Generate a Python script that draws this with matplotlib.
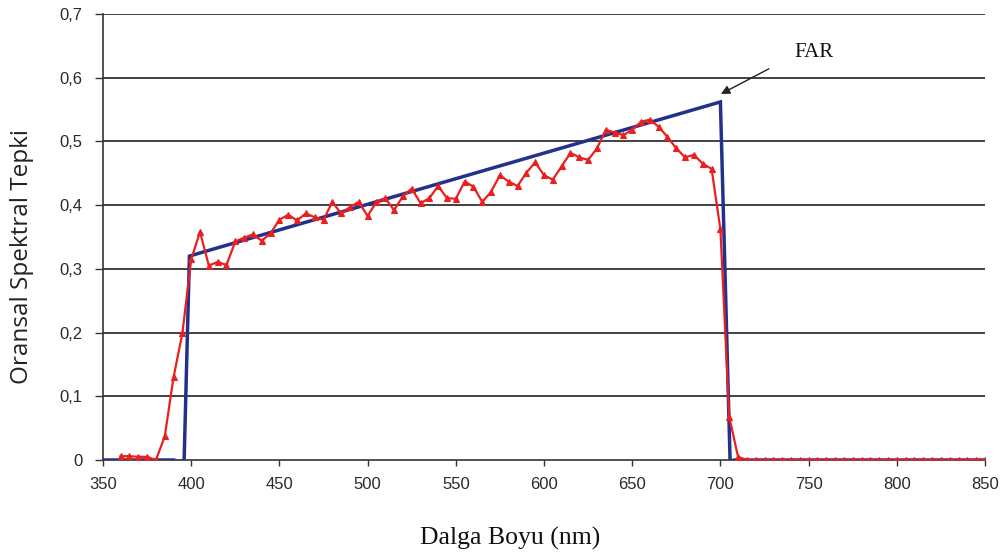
import numpy as np
import matplotlib
matplotlib.use("Agg")
import matplotlib.pyplot as plt

# Measured relative spectral response (red, sampled every 5 nm)
measured_nm = np.arange(360, 855, 5)
measured_resp = [
    0.006, 0.006, 0.005, 0.005, 0.000, 0.037, 0.130, 0.199, 0.315, 0.358,   # 360-405
    0.305, 0.311, 0.306, 0.343, 0.349, 0.354, 0.344, 0.356, 0.377, 0.385,   # 410-455
    0.376, 0.387, 0.381, 0.377, 0.405, 0.387, 0.397, 0.405, 0.383, 0.405,   # 460-505
    0.411, 0.392, 0.414, 0.426, 0.403, 0.411, 0.430, 0.411, 0.410, 0.437,   # 510-555
    0.429, 0.405, 0.421, 0.447, 0.437, 0.430, 0.451, 0.467, 0.447, 0.440,   # 560-605
    0.461, 0.482, 0.475, 0.471, 0.489, 0.518, 0.514, 0.510, 0.518, 0.531,   # 610-655
    0.534, 0.523, 0.507, 0.489, 0.475, 0.479, 0.465, 0.457, 0.362, 0.068,   # 660-705
    0.005,                                                                  # 710
]
measured_resp = measured_resp + [0.0] * (len(measured_nm) - len(measured_resp))

# Ideal PAR (FAR) quantum response (blue)
ideal_nm = [350, 390, 394, 396, 399, 405, 700, 705.5, 708, 850]
ideal_resp = [0.0, 0.0, -0.003, 0.0, 0.320, 0.325, 0.562, -0.002, 0.0, 0.0]

x_ticks = [350, 400, 450, 500, 550, 600, 650, 700, 750, 800, 850]
y_ticks = [0.0, 0.1, 0.2, 0.3, 0.4, 0.5, 0.6, 0.7]
y_tick_labels = ["0", "0,1", "0,2", "0,3", "0,4", "0,5", "0,6", "0,7"]

fig = plt.figure(figsize=(10.05, 5.56), dpi=100)
ax = fig.add_axes([103 / 1005, 1 - 460 / 556, (985 - 103) / 1005, (460 - 14) / 556])

ax.plot(ideal_nm, ideal_resp, color="#23318c", lw=2.5, zorder=3,
        solid_joinstyle="miter")
ax.plot(measured_nm, measured_resp, color="#e82020", lw=1.6, marker="^",
        markersize=4.2, markeredgewidth=0.8, zorder=4)

ax.set_xlim(350, 850)
ax.set_ylim(0, 0.7)
ax.set_xticks(x_ticks)
ax.set_yticks(y_ticks)
ax.set_yticklabels(y_tick_labels)

for y in y_ticks[1:]:
    ax.axhline(y, color="#333333", lw=1.3, zorder=1)

for side in ("top", "right"):
    ax.spines[side].set_visible(False)
for side in ("left", "bottom"):
    ax.spines[side].set_color("#333333")
    ax.spines[side].set_linewidth(1.2)

ax.tick_params(axis="both", direction="out", width=1.0,
               color="#333333", labelsize=12, labelcolor="#2a2a2a")
ax.tick_params(axis="y", length=6, pad=9)
ax.tick_params(axis="x", length=4, pad=8)
for lab in ax.get_xticklabels() + ax.get_yticklabels():
    lab.set_fontfamily("Liberation Sans")

ax.set_ylabel("Oransal Spektral Tepki", fontfamily="Open Sans",
              fontsize=17.5, color="#222222", va="center")
ax.yaxis.set_label_coords((22 - 103) / 882, (460 - 257) / 446)
ax.set_xlabel("Dalga Boyu (nm)", fontfamily="Liberation Serif",
              fontsize=18.5, color="#111111", va="center")
ax.xaxis.set_label_coords((510 - 103) / 882, (460 - 538) / 446)

ax.annotate("", xy=(700.3, 0.5745), xytext=(727.5, 0.614),
            arrowprops=dict(arrowstyle="-|>", color="#222222", lw=1.0,
                            mutation_scale=13, shrinkA=0, shrinkB=0))
ax.text(753, 0.639, "FAR", fontfamily="Liberation Serif", fontsize=15,
        color="#111111", ha="center", va="center")

fig.savefig("out.png", dpi=100)
